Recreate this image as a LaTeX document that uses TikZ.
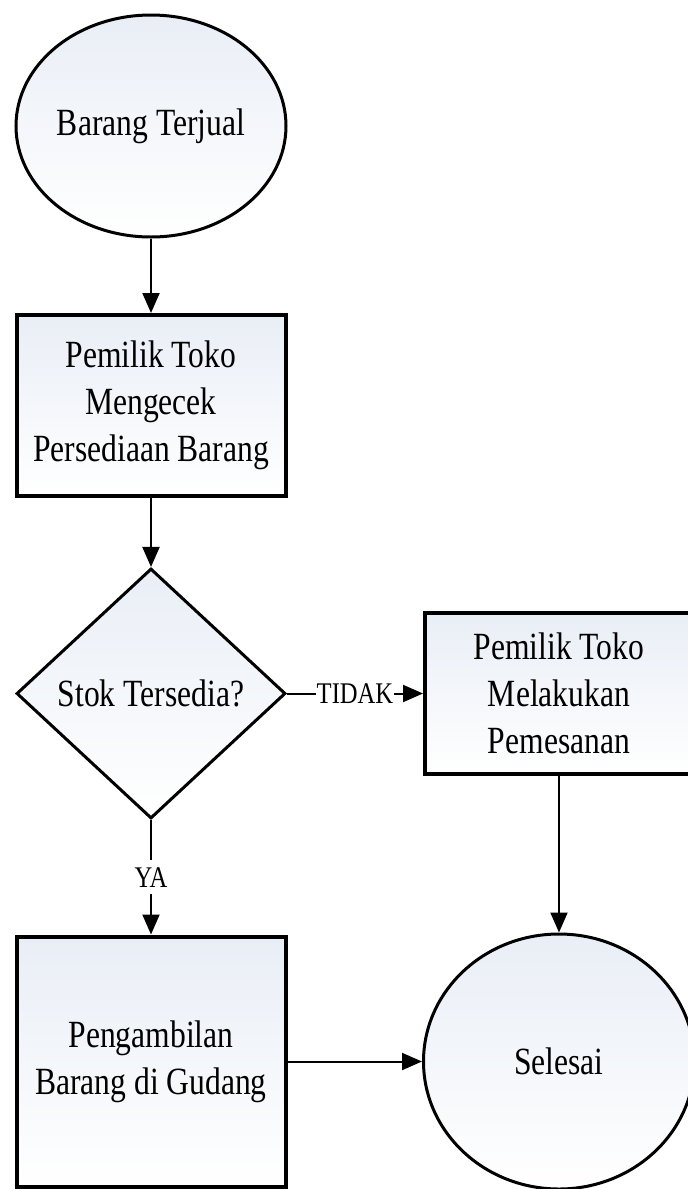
\documentclass[tikz,border=0pt]{standalone}
\usepackage{fontspec}
\setmainfont{Liberation Serif}[FakeStretch=0.82]
\usepackage{tikz}
\usetikzlibrary{arrows.meta,positioning,shapes.geometric}
\definecolor{boxfill}{RGB}{233,238,246}

\begin{document}
\begin{tikzpicture}[
    >={Triangle[length=20pt,width=17pt]},
    font=\fontsize{38.5pt}{47pt}\selectfont,
    block/.style={
		rectangle,
		draw=black,
		line width=4pt,
		align=center,
		minimum width=269pt,
		top color=boxfill,
		bottom color=white
	},
	terminal/.style={
		ellipse,
		draw=black,
		line width=3pt,
		inner sep=0pt,
		top color=boxfill,
		bottom color=white
	},
	choice/.style={
		diamond,
		draw=black,
		line width=3pt,
		inner sep=0pt,
		minimum width=269pt,
		minimum height=250pt,
		top color=boxfill,
		bottom color=white
	},
	answer/.style={
		font=\fontsize{30pt}{32pt}\selectfont,
		fill=white,
		inner xsep=1pt,
		inner ysep=7pt
	},
	link/.style={
		line width=2pt
	}
  ]
  \useasboundingbox (0,0) rectangle (688pt,-1189pt);

    % We start by placing the blocks
  \node [terminal, minimum width=270pt, minimum height=222pt] (step1) at (151pt,-126pt) {Barang Terjual};

  \node [block, node distance=279.5pt, below of=step1, minimum height=181pt] (step2)
 {Pemilik Toko\\Mengecek\\Persediaan Barang};

  \node [choice, node distance=288pt, below of=step2] (step3) {Stok Tersedia?};

  \node [block, node distance=408pt, right of=step3, minimum width=268pt, minimum height=161pt] (step4)
 {Pemilik Toko\\Melakukan\\Pemesanan};

  \node [block, node distance=368pt, below of=step3, minimum height=250pt] (step5)
 {Pengambilan\\Barang di Gudang};

  \node [terminal, node distance=408pt, right of=step5, minimum width=271pt, minimum height=255pt] (step6) {Selesai};

 \draw [link,->] (step1) -- (step2);
 \draw [link,->] (step2) -- (step3);
 \draw [link,->] (step3) -- node [answer] (no) {TIDAK} (step4);
 \draw [link,->] (step3) -- node [answer] (yes) {YA} (step5);
 \draw [link,->] (step4) -- (step6);
 \draw [link,->] (step5) -- (step6);

\end{tikzpicture}
\end{document}
